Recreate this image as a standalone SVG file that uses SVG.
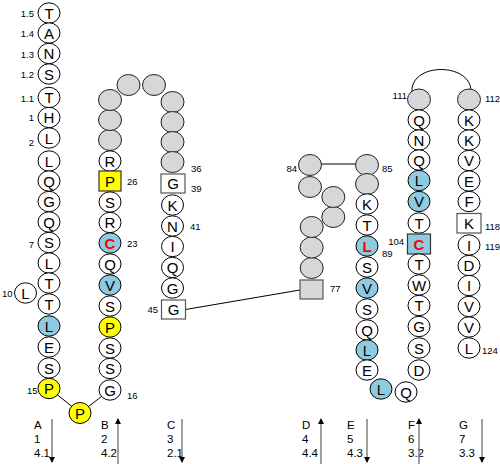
<svg xmlns="http://www.w3.org/2000/svg" width="500" height="464" viewBox="0 0 500 464">
<style>
.w{fill:#fff;stroke:#000;stroke-width:1}
.g{fill:#d5d7d8;stroke:#222;stroke-width:1}
.b{fill:#8fcbe0;stroke:#000;stroke-width:1}
.y{fill:#ffff00;stroke:#000;stroke-width:1}
.sq{fill:#fff;stroke:#555;stroke-width:1.2}
.sqg{fill:#d5d7d8;stroke:#555;stroke-width:1.2}
.sqb{fill:#8fcbe0;stroke:#333;stroke-width:1.2}
.sqy{fill:#ffff00;stroke:#333;stroke-width:1.2}
text{font-family:"Liberation Sans",Arial,sans-serif;fill:#000}
.t{font-size:15px;text-anchor:middle}
.r{fill:#ff0000;font-weight:bold}
.n{font-size:9.5px}
.ne{font-size:9.5px;text-anchor:end}
.lb{font-size:11.5px}
.ln{stroke:#000;stroke-width:1;fill:none}
.ar{stroke:#777;stroke-width:1.4}
</style>
<defs>
<marker id="ah" markerWidth="6" markerHeight="6" refX="5" refY="3" orient="auto" markerUnits="userSpaceOnUse">
<path d="M0,0 L6,3 L0,6 z" fill="#000"/>
</marker>
</defs>
<g id="connectors">
<line class="ln" x1="49" y1="388" x2="80" y2="413"/>
<line class="ln" x1="80" y1="413" x2="110" y2="390"/>
<line class="ln" x1="185.5" y1="309.5" x2="300" y2="290"/>
<line x1="321" y1="164" x2="356" y2="164" stroke="#555" stroke-width="1.6"/>
<path class="ln" d="M412 92 C410 62, 472 62, 471 92"/>
</g>
<g id="col1">
<g id="r1_5"><ellipse class="w" cx="49" cy="13" rx="11" ry="10.2"/><text class="t" x="49" y="18.5">T</text><text class="ne" x="34" y="17">1.5</text></g>
<g id="r1_4"><ellipse class="w" cx="49" cy="33" rx="11" ry="10.2"/><text class="t" x="49" y="38.5">A</text><text class="ne" x="34" y="37">1.4</text></g>
<g id="r1_3"><ellipse class="w" cx="49" cy="53.5" rx="11" ry="10.2"/><text class="t" x="49" y="59">N</text><text class="ne" x="34" y="57.5">1.3</text></g>
<g id="r1_2"><ellipse class="w" cx="49" cy="74" rx="11" ry="10.2"/><text class="t" x="49" y="79.5">S</text><text class="ne" x="34" y="78">1.2</text></g>
<g id="r1_1"><ellipse class="w" cx="49" cy="97.5" rx="11" ry="10.2"/><text class="t" x="49" y="103">T</text><text class="ne" x="34" y="101.5">1.1</text></g>
<g id="r1"><ellipse class="w" cx="49" cy="117.5" rx="11" ry="10.2"/><text class="t" x="49" y="123">H</text><text class="ne" x="34" y="121">1</text></g>
<g id="r2"><ellipse class="w" cx="49" cy="138" rx="11" ry="10.2"/><text class="t" x="49" y="143.5">L</text><text class="ne" x="34" y="146">2</text></g>
<g id="r3"><ellipse class="w" cx="49" cy="161" rx="11" ry="10.2"/><text class="t" x="49" y="166.5">L</text></g>
<g id="r4"><ellipse class="w" cx="49" cy="181" rx="11" ry="10.2"/><text class="t" x="49" y="186.5">Q</text></g>
<g id="r5"><ellipse class="w" cx="49" cy="201.5" rx="11" ry="10.2"/><text class="t" x="49" y="207">G</text></g>
<g id="r6"><ellipse class="w" cx="49" cy="222" rx="11" ry="10.2"/><text class="t" x="49" y="227.5">Q</text></g>
<g id="r7"><ellipse class="w" cx="49" cy="242.5" rx="11" ry="10.2"/><text class="t" x="49" y="248">S</text><text class="ne" x="34" y="247.5">7</text></g>
<g id="r8"><ellipse class="w" cx="49" cy="263" rx="11" ry="10.2"/><text class="t" x="49" y="268.5">L</text></g>
<g id="r9"><ellipse class="w" cx="49" cy="283" rx="11" ry="10.2"/><text class="t" x="49" y="288.5">T</text></g>
<g id="r10"><ellipse class="w" cx="25.5" cy="293" rx="11" ry="10.2"/><text class="t" x="25.5" y="298.5">L</text><text class="ne" x="12.5" y="296.5">10</text></g>
<g id="r11"><ellipse class="w" cx="49" cy="304" rx="11" ry="10.2"/><text class="t" x="49" y="309.5">T</text></g>
<g id="r12"><ellipse class="b" cx="49" cy="326" rx="11" ry="10.2"/><text class="t" x="49" y="331.5">L</text></g>
<g id="r13"><ellipse class="w" cx="49" cy="347" rx="11" ry="10.2"/><text class="t" x="49" y="352.5">E</text></g>
<g id="r14"><ellipse class="w" cx="49" cy="368" rx="11" ry="10.2"/><text class="t" x="49" y="373.5">S</text></g>
<g id="r15"><ellipse class="y" cx="49" cy="388.5" rx="11" ry="10.2"/><text class="t" x="49" y="394">P</text><text class="ne" x="37.5" y="393.5">15</text></g>
</g>
<g id="r_mid"><ellipse class="y" cx="80" cy="413" rx="11" ry="10.5"/><text class="t" x="80" y="418.5">P</text></g>
<g id="col2">
<g id="r28"><ellipse class="g" cx="110" cy="140" rx="11.5" ry="10.5"/></g>
<g id="r29"><ellipse class="g" cx="110" cy="120" rx="11.5" ry="10.5"/></g>
<g id="r30"><ellipse class="g" cx="110" cy="100" rx="11.5" ry="10.5"/></g>
<g id="r31"><ellipse class="g" cx="128.5" cy="85" rx="11.5" ry="10.5"/></g>
<g id="r32"><ellipse class="g" cx="154" cy="85" rx="11.5" ry="10.5"/></g>
<g id="r27"><ellipse class="w" cx="110" cy="161" rx="11" ry="10.2"/><text class="t" x="110" y="166.5">R</text></g>
<g id="r26"><rect class="sqy" x="99" y="171" width="22" height="20"/><text class="t" x="110" y="186.5">P</text><text class="n" x="127" y="185">26</text></g>
<g id="r25"><ellipse class="w" cx="110" cy="202" rx="11" ry="10.2"/><text class="t" x="110" y="207.5">S</text></g>
<g id="r24"><ellipse class="w" cx="110" cy="222.5" rx="11" ry="10.2"/><text class="t" x="110" y="228">R</text></g>
<g id="r23"><ellipse class="b" cx="110" cy="243" rx="11" ry="10.2"/><text class="t r" x="110" y="248.5">C</text><text class="n" x="127" y="246.5">23</text></g>
<g id="r22"><ellipse class="w" cx="110" cy="264" rx="11" ry="10.2"/><text class="t" x="110" y="269.5">Q</text></g>
<g id="r21"><ellipse class="b" cx="110" cy="285" rx="11" ry="10.2"/><text class="t" x="110" y="290.5">V</text></g>
<g id="r20"><ellipse class="w" cx="110" cy="306" rx="11" ry="10.2"/><text class="t" x="110" y="311.5">S</text></g>
<g id="r19"><ellipse class="y" cx="110" cy="327" rx="11" ry="10.2"/><text class="t" x="110" y="332.5">P</text></g>
<g id="r18"><ellipse class="w" cx="110" cy="348" rx="11" ry="10.2"/><text class="t" x="110" y="353.5">S</text></g>
<g id="r17"><ellipse class="w" cx="110" cy="368.5" rx="11" ry="10.2"/><text class="t" x="110" y="374">S</text></g>
<g id="r16"><ellipse class="w" cx="110" cy="390" rx="11" ry="10.2"/><text class="t" x="110" y="395.5">G</text><text class="n" x="127" y="398.5">16</text></g>
</g>
<g id="col3">
<g id="r33"><ellipse class="g" cx="172.5" cy="102" rx="11.5" ry="10.5"/></g>
<g id="r34"><ellipse class="g" cx="172.5" cy="122" rx="11.5" ry="10.5"/></g>
<g id="r35"><ellipse class="g" cx="172.5" cy="142" rx="11.5" ry="10.5"/></g>
<g id="r36"><ellipse class="g" cx="172.5" cy="162" rx="11.5" ry="10.5"/><text class="n" x="191" y="171.5">36</text></g>
<g id="r39"><rect class="sq" x="161" y="174" width="24" height="19"/><text class="t" x="173" y="189">G</text><text class="n" x="191" y="191.5">39</text></g>
<g id="r40"><ellipse class="w" cx="172.5" cy="205" rx="11" ry="10.2"/><text class="t" x="172.5" y="210.5">K</text></g>
<g id="r41"><ellipse class="w" cx="172.5" cy="226" rx="11" ry="10.2"/><text class="t" x="172.5" y="231.5">N</text><text class="n" x="190" y="229.5">41</text></g>
<g id="r42"><ellipse class="w" cx="172.5" cy="246.5" rx="11" ry="10.2"/><text class="t" x="172.5" y="252">I</text></g>
<g id="r43"><ellipse class="w" cx="172.5" cy="267.5" rx="11" ry="10.2"/><text class="t" x="172.5" y="273">Q</text></g>
<g id="r44"><ellipse class="w" cx="172.5" cy="288" rx="11" ry="10.2"/><text class="t" x="172.5" y="293.5">G</text></g>
<g id="r45"><rect class="sq" x="161.5" y="300" width="24" height="19"/><text class="t" x="173.5" y="315">G</text><text class="ne" x="158" y="313">45</text></g>
</g>
<g id="colD">
<g id="r77"><rect class="sqg" x="300" y="280" width="23" height="19"/><text class="n" x="330" y="291.5">77</text></g>
<g id="r78"><ellipse class="g" cx="311.7" cy="268" rx="11.5" ry="10.5"/></g>
<g id="r79"><ellipse class="g" cx="311.7" cy="247.5" rx="11.5" ry="10.5"/></g>
<g id="r80"><ellipse class="g" cx="311.7" cy="227" rx="11.5" ry="10.5"/></g>
<g id="r81"><ellipse class="g" cx="333.3" cy="217" rx="11.5" ry="10.5"/></g>
<g id="r82"><ellipse class="g" cx="333.3" cy="197" rx="11.5" ry="10.5"/></g>
<g id="r83"><ellipse class="g" cx="310" cy="187" rx="11.5" ry="10.5"/></g>
<g id="r84"><ellipse class="g" cx="310" cy="165" rx="11.5" ry="10.5"/><text class="ne" x="297" y="171.5">84</text></g>
</g>
<g id="colE">
<g id="r85"><ellipse class="g" cx="367" cy="165" rx="11.5" ry="10.5"/><text class="n" x="382" y="171.5">85</text></g>
<g id="r86"><ellipse class="g" cx="367" cy="184" rx="11.5" ry="10.5"/></g>
<g id="r87"><ellipse class="w" cx="367" cy="204" rx="11" ry="10.2"/><text class="t" x="367" y="209.5">K</text></g>
<g id="r88"><ellipse class="w" cx="367" cy="225" rx="11" ry="10.2"/><text class="t" x="367" y="230.5">T</text></g>
<g id="r89"><ellipse class="b" cx="367" cy="246" rx="11" ry="10.2"/><text class="t r" x="367" y="251.5">L</text><text class="n" x="382" y="256.5">89</text></g>
<g id="r90"><ellipse class="w" cx="367" cy="267" rx="11" ry="10.2"/><text class="t" x="367" y="272.5">S</text></g>
<g id="r91"><ellipse class="b" cx="367" cy="288" rx="11" ry="10.2"/><text class="t" x="367" y="293.5">V</text></g>
<g id="r92"><ellipse class="w" cx="367" cy="309" rx="11" ry="10.2"/><text class="t" x="367" y="314.5">S</text></g>
<g id="r93"><ellipse class="w" cx="367" cy="330" rx="11" ry="10.2"/><text class="t" x="367" y="335.5">Q</text></g>
<g id="r94"><ellipse class="b" cx="367" cy="350" rx="11" ry="10.2"/><text class="t" x="367" y="355.5">L</text></g>
<g id="r95"><ellipse class="w" cx="367" cy="370" rx="11" ry="10.2"/><text class="t" x="367" y="375.5">E</text></g>
<g id="r96"><ellipse class="b" cx="381" cy="389" rx="11" ry="10.2"/><text class="t" x="381" y="394.5">L</text></g>
<g id="r97"><ellipse class="w" cx="406" cy="392" rx="11" ry="10.2"/><text class="t" x="406" y="397.5">Q</text></g>
</g>
<g id="colF">
<g id="r111"><ellipse class="g" cx="419" cy="99.5" rx="11.5" ry="10.5"/><text class="ne" x="407" y="99">111</text></g>
<g id="r110"><ellipse class="w" cx="419" cy="120" rx="11" ry="10.2"/><text class="t" x="419" y="125.5">Q</text></g>
<g id="r109"><ellipse class="w" cx="419" cy="140" rx="11" ry="10.2"/><text class="t" x="419" y="145.5">N</text></g>
<g id="r108"><ellipse class="w" cx="419" cy="160" rx="11" ry="10.2"/><text class="t" x="419" y="165.5">Q</text></g>
<g id="r107"><ellipse class="b" cx="419" cy="180.5" rx="11" ry="10.2"/><text class="t" x="419" y="186">L</text></g>
<g id="r106"><ellipse class="b" cx="419" cy="201.5" rx="11" ry="10.2"/><text class="t" x="419" y="207">V</text></g>
<g id="r105"><ellipse class="w" cx="419" cy="223" rx="11" ry="10.2"/><text class="t" x="419" y="228.5">T</text></g>
<g id="r104"><rect class="sqb" x="407.5" y="234" width="23" height="20"/><text class="t r" x="419" y="249.5">C</text><text class="ne" x="404" y="245">104</text></g>
<g id="r103"><ellipse class="w" cx="419" cy="264" rx="11" ry="10.2"/><text class="t" x="419" y="269.5">T</text></g>
<g id="r102"><ellipse class="w" cx="419" cy="285" rx="11" ry="10.2"/><text class="t" x="419" y="290.5">W</text></g>
<g id="r101"><ellipse class="w" cx="419" cy="305.5" rx="11" ry="10.2"/><text class="t" x="419" y="311">T</text></g>
<g id="r100"><ellipse class="w" cx="419" cy="326.5" rx="11" ry="10.2"/><text class="t" x="419" y="332">G</text></g>
<g id="r99"><ellipse class="w" cx="419" cy="348" rx="11" ry="10.2"/><text class="t" x="419" y="353.5">S</text></g>
<g id="r98"><ellipse class="w" cx="419" cy="370" rx="11" ry="10.2"/><text class="t" x="419" y="375.5">D</text></g>
</g>
<g id="colG">
<g id="r112"><ellipse class="g" cx="469" cy="99.5" rx="11.5" ry="10.5"/><text class="n" x="485" y="101.5">112</text></g>
<g id="r113"><ellipse class="w" cx="469" cy="120" rx="11" ry="10.2"/><text class="t" x="469" y="125.5">K</text></g>
<g id="r114"><ellipse class="w" cx="469" cy="140" rx="11" ry="10.2"/><text class="t" x="469" y="145.5">K</text></g>
<g id="r115"><ellipse class="w" cx="469" cy="160.5" rx="11" ry="10.2"/><text class="t" x="469" y="166">V</text></g>
<g id="r116"><ellipse class="w" cx="469" cy="181" rx="11" ry="10.2"/><text class="t" x="469" y="186.5">E</text></g>
<g id="r117"><ellipse class="w" cx="469" cy="201.5" rx="11" ry="10.2"/><text class="t" x="469" y="207">F</text></g>
<g id="r118"><rect class="sq" x="457" y="213.5" width="24" height="19.5"/><text class="t" x="469" y="228.5">K</text><text class="n" x="485" y="230">118</text></g>
<g id="r119"><ellipse class="w" cx="469" cy="245" rx="11" ry="10.2"/><text class="t" x="469" y="250.5">I</text><text class="n" x="485" y="250">119</text></g>
<g id="r120"><ellipse class="w" cx="469" cy="265.5" rx="11" ry="10.2"/><text class="t" x="469" y="271">D</text></g>
<g id="r121"><ellipse class="w" cx="469" cy="285.5" rx="11" ry="10.2"/><text class="t" x="469" y="291">I</text></g>
<g id="r122"><ellipse class="w" cx="469" cy="306.5" rx="11" ry="10.2"/><text class="t" x="469" y="312">V</text></g>
<g id="r123"><ellipse class="w" cx="469" cy="327" rx="11" ry="10.2"/><text class="t" x="469" y="332.5">V</text></g>
<g id="r124"><ellipse class="w" cx="469" cy="348" rx="11" ry="10.2"/><text class="t" x="469" y="353.5">L</text><text class="n" x="482" y="353.5">124</text></g>
</g>
<g id="legend">
<text class="lb" x="34" y="429">A</text><text class="lb" x="34" y="443">1</text><text class="lb" x="34" y="457">4.1</text>
<line class="ar" x1="52" y1="419" x2="52" y2="462" marker-end="url(#ah)"/>
<text class="lb" x="101" y="429">B</text><text class="lb" x="101" y="443">2</text><text class="lb" x="101" y="457">4.2</text>
<line class="ar" x1="118" y1="464" x2="118" y2="419" marker-end="url(#ah)"/>
<text class="lb" x="167" y="429">C</text><text class="lb" x="167" y="443">3</text><text class="lb" x="167" y="457">2.1</text>
<line class="ar" x1="182" y1="419" x2="182" y2="462" marker-end="url(#ah)"/>
<text class="lb" x="302" y="429">D</text><text class="lb" x="302" y="443">4</text><text class="lb" x="302" y="457">4.4</text>
<line class="ar" x1="321" y1="464" x2="321" y2="419" marker-end="url(#ah)"/>
<text class="lb" x="347" y="429">E</text><text class="lb" x="347" y="443">5</text><text class="lb" x="347" y="457">4.3</text>
<line class="ar" x1="367" y1="419" x2="367" y2="462" marker-end="url(#ah)"/>
<text class="lb" x="408" y="429">F</text><text class="lb" x="408" y="443">6</text><text class="lb" x="408" y="457">3.2</text>
<line class="ar" x1="419" y1="464" x2="419" y2="419" marker-end="url(#ah)"/>
<text class="lb" x="459" y="429">G</text><text class="lb" x="459" y="443">7</text><text class="lb" x="459" y="457">3.3</text>
<line class="ar" x1="482" y1="419" x2="482" y2="462" marker-end="url(#ah)"/>
</g>
</svg>
